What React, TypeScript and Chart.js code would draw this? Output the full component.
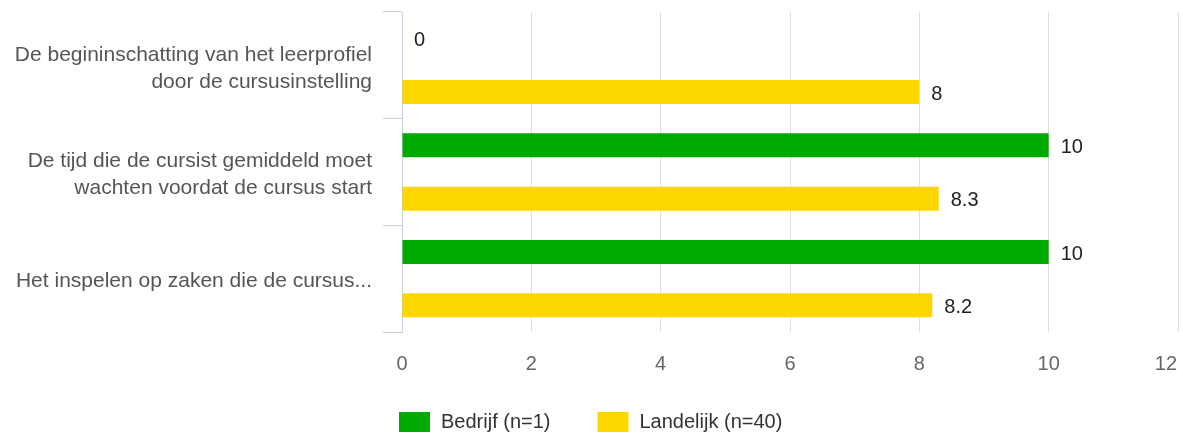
import React, { useEffect, useRef } from "react";
import { Chart, registerables } from "chart.js";

Chart.register(...registerables);

const FONT = "Arial, 'Liberation Sans', sans-serif";

const categories: (string | string[])[] = [
  ["De begininschatting van het leerprofiel", "door de cursusinstelling"],
  ["De tijd die de cursist gemiddeld moet", "wachten voordat de cursus start"],
  "Het inspelen op zaken die de cursus...",
];
const seriesNames = ["Bedrijf (n=1)", "Landelijk (n=40)"];
const bedrijf = [0, 10, 10];
const landelijk = [8, 8.3, 8.2];
const seriesColors = ["#00aa00", "#ffd700"];
const xMin = 0;
const xMax = 12;
const xStep = 2;

const valueLabels = {
  id: "valueLabels",
  afterDatasetsDraw(chart: any) {
    const ctx = chart.ctx;
    ctx.save();
    ctx.font = `20px ${FONT}`;
    ctx.fillStyle = "#222";
    ctx.textAlign = "left";
    ctx.textBaseline = "middle";
    chart.data.datasets.forEach((ds: any, i: number) => {
      const meta = chart.getDatasetMeta(i);
      meta.data.forEach((el: any, j: number) => {
        ctx.fillText(String(ds.data[j]), el.x + 12, el.y + 2);
      });
    });
    ctx.restore();
  },
};

const xTickLabels = {
  id: "xTickLabels",
  afterDraw(chart: any) {
    const ctx = chart.ctx;
    const sc = chart.scales.x;
    ctx.save();
    ctx.font = `20px ${FONT}`;
    ctx.fillStyle = "#666";
    ctx.textAlign = "left";
    ctx.textBaseline = "middle";
    sc.ticks.forEach((t: any) => {
      const label = String(t.value);
      const px = sc.getPixelForValue(t.value);
      const w = ctx.measureText(label).width;
      let x = px - w / 2;
      if (x + w > chart.width - 6) x = chart.width - 6 - w;
      ctx.fillText(label, x, sc.top + 32);
    });
    ctx.restore();
  },
};

const customLegend = {
  id: "customLegend",
  afterDraw(chart: any) {
    const ctx = chart.ctx;
    ctx.save();
    ctx.font = `20px ${FONT}`;
    ctx.textAlign = "left";
    ctx.textBaseline = "middle";
    let x = chart.chartArea.left - 3;
    const cy = 422;
    chart.data.datasets.forEach((ds: any) => {
      ctx.fillStyle = ds.backgroundColor;
      ctx.fillRect(x, cy - 10, 31, 20);
      ctx.fillStyle = "#333";
      ctx.fillText(ds.label, x + 42, cy);
      x += 42 + ctx.measureText(ds.label).width + 47;
    });
    ctx.restore();
  },
};

export default function App() {
  const ref = useRef<HTMLCanvasElement | null>(null);
  useEffect(() => {
    document.body.style.margin = "0";
    if (!ref.current) return;
    const chart = new Chart(ref.current, {
      type: "bar",
      data: {
        labels: categories,
        datasets: [
          {
            label: seriesNames[0],
            data: bedrijf,
            backgroundColor: seriesColors[0],
            borderWidth: 0,
          },
          {
            label: seriesNames[1],
            data: landelijk,
            backgroundColor: seriesColors[1],
            borderWidth: 0,
          },
        ],
      },
      options: {
        indexAxis: "y",
        animation: false,
        responsive: false,
        devicePixelRatio: 1,
        layout: { padding: { top: 12, right: 5, left: 0, bottom: 0 } },
        datasets: {
          bar: { categoryPercentage: 1.0, barPercentage: 0.45 },
        },
        plugins: {
          legend: { display: false },
          tooltip: { enabled: false },
        },
        scales: {
          x: {
            min: xMin,
            max: xMax,
            ticks: { stepSize: xStep, display: false },
            grid: {
              color: (c: any) => (c.tick && c.tick.value === 0 ? "rgba(0,0,0,0)" : "#dddddd"),
              drawTicks: false,
            },
            border: { display: false },
            afterFit: (s: any) => {
              s.height = 108;
              s.paddingLeft = 0;
              s.paddingRight = 0;
            },
          },
          y: {
            grid: {
              drawOnChartArea: false,
              drawTicks: true,
              tickLength: 19,
              color: "#c6d1de",
              offset: true,
            },
            border: { display: true, color: "#c6d1de" },
            ticks: {
              padding: 11,
              labelOffset: 3,
              color: "#555",
              font: { family: FONT, size: 21, lineHeight: 1.29 },
            },
            afterFit: (s: any) => {
              s.width = 402;
              s.paddingTop = 0;
              s.paddingBottom = 0;
            },
          },
        },
      },
      plugins: [valueLabels, xTickLabels, customLegend],
    });
    return () => chart.destroy();
  }, []);
  return (
    <div style={{ width: 1183, height: 440 }}>
      <canvas ref={ref} width={1183} height={440} style={{ display: "block" }} />
    </div>
  );
}
